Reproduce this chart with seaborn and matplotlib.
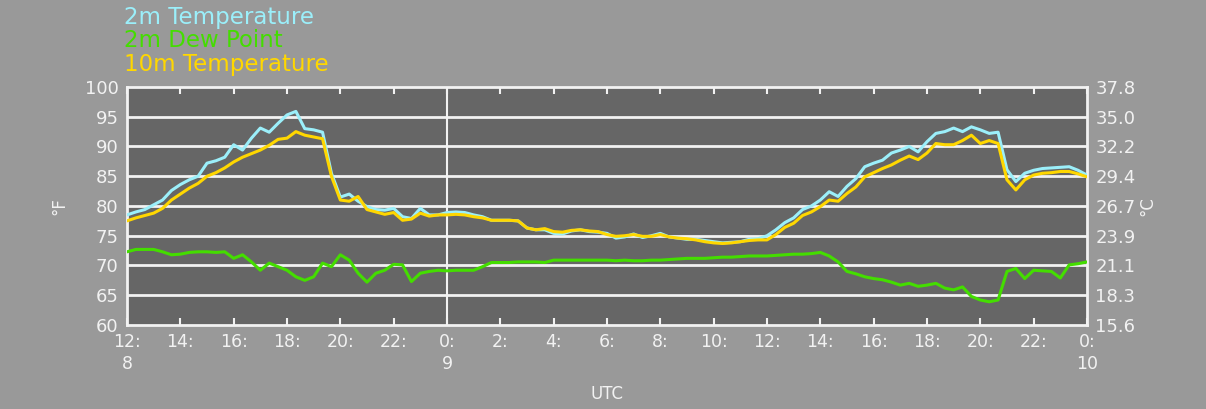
import numpy as np
import pandas as pd
import matplotlib
matplotlib.use("Agg")
import matplotlib.pyplot as plt
import seaborn as sns

# hours since 12 UTC on day 8, every 20 minutes
hours = [i / 3 for i in range(109)]

temp_2m = [
    78.5, 79.0, 79.4, 80.2, 81.0, 82.6, 83.6, 84.4, 85.0,
    87.2, 87.6, 88.2, 90.3, 89.4, 91.4, 93.1, 92.4, 93.9,
    95.3, 95.9, 93.0, 92.8, 92.4, 85.5, 81.5, 82.0, 80.8,
    79.9, 79.4, 79.3, 79.6, 78.2, 77.9, 79.6, 78.5, 78.5,
    78.9, 79.0, 78.9, 78.5, 78.2, 77.6, 77.6, 77.6, 77.5,
    76.3, 76.0, 76.0, 75.4, 75.3, 75.8, 76.0, 75.7, 75.6,
    75.4, 74.6, 74.8, 75.3, 74.7, 75.0, 75.4, 74.8, 74.6,
    74.4, 74.4, 74.2, 74.0, 73.8, 73.9, 74.0, 74.4, 74.5,
    75.0, 76.0, 77.2, 78.0, 79.4, 80.0, 81.0, 82.4, 81.6,
    83.3, 84.6, 86.6, 87.2, 87.7, 88.9, 89.4, 90.0, 89.1,
    90.8, 92.2, 92.5, 93.1, 92.5, 93.3, 92.8, 92.2, 92.4,
    86.1, 84.1, 85.5, 86.0, 86.3, 86.4, 86.5, 86.6, 86.0,
    85.2,
]

dew_2m = [
    72.3, 72.7, 72.7, 72.7, 72.3, 71.8, 71.9, 72.2, 72.3,
    72.3, 72.2, 72.3, 71.2, 71.8, 70.6, 69.2, 70.4, 69.8,
    69.2, 68.1, 67.5, 68.1, 70.4, 69.8, 71.8, 70.9, 68.7,
    67.2, 68.7, 69.2, 70.2, 70.1, 67.3, 68.7, 69.0, 69.2,
    69.1, 69.2, 69.2, 69.2, 69.8, 70.5, 70.5, 70.5, 70.6,
    70.6, 70.6, 70.5, 70.9, 70.9, 70.9, 70.9, 70.9, 70.9,
    70.9, 70.8, 70.9, 70.8, 70.8, 70.9, 70.9, 71.0, 71.1,
    71.2, 71.2, 71.2, 71.3, 71.4, 71.4, 71.5, 71.6, 71.6,
    71.6, 71.7, 71.8, 71.9, 71.9, 72.0, 72.2, 71.6, 70.6,
    69.0, 68.6, 68.1, 67.8, 67.6, 67.2, 66.7, 67.0, 66.5,
    66.7, 67.0, 66.2, 65.9, 66.4, 64.8, 64.2, 63.9, 64.2,
    69.0, 69.5, 67.8, 69.2, 69.1, 69.0, 67.9, 70.1, 70.3,
    70.6,
]

temp_10m = [
    77.5, 78.0, 78.4, 78.8, 79.6, 81.0, 82.0, 83.0, 83.8,
    85.0, 85.6, 86.4, 87.4, 88.2, 88.8, 89.4, 90.2, 91.2,
    91.4, 92.5, 91.9, 91.6, 91.3, 85.0, 81.0, 80.8, 81.6,
    79.4, 79.0, 78.6, 78.9, 77.6, 77.8, 78.8, 78.3, 78.5,
    78.5, 78.6, 78.5, 78.2, 78.0, 77.6, 77.6, 77.6, 77.5,
    76.3, 76.0, 76.2, 75.7, 75.6, 75.9, 76.0, 75.8, 75.7,
    75.2, 74.9, 75.0, 75.2, 74.9, 74.9, 75.2, 74.8, 74.6,
    74.5, 74.3, 74.0, 73.8, 73.7, 73.8, 74.0, 74.2, 74.3,
    74.3, 75.2, 76.4, 77.1, 78.4, 79.0, 79.9, 81.0, 80.8,
    82.1, 83.2, 84.9, 85.6, 86.3, 86.9, 87.7, 88.4, 87.8,
    88.9, 90.5, 90.3, 90.3, 91.0, 91.9, 90.5, 91.0, 90.5,
    84.4, 82.7, 84.4, 85.2, 85.5, 85.6, 85.8, 85.8, 85.4,
    84.9,
]

series_names = ["2m Temperature", "2m Dew Point", "10m Temperature"]
series_colors = ["#9BEFFA", "#44DD00", "#FFD700"]

x_tick_hours = [0, 2, 4, 6, 8, 10, 12, 14, 16, 18, 20, 22, 24, 26, 28, 30, 32, 34, 36]
x_tick_labels = ["12:\n8", "14:", "16:", "18:", "20:", "22:", "0:\n9", "2:", "4:", "6:",
                 "8:", "10:", "12:", "14:", "16:", "18:", "20:", "22:", "0:\n10"]
f_ticks = [60, 65, 70, 75, 80, 85, 90, 95, 100]
c_labels = ["15.6", "18.3", "21.1", "23.9", "26.7", "29.4", "32.2", "35.0", "37.8"]

BG = "#999999"
PANEL = "#666666"
WHITE = "#F2F2F2"

sns.set_theme(style="white")
plt.rcParams["font.family"] = ["DejaVu Sans"]

fig = plt.figure(figsize=(12.06, 4.09), dpi=100, facecolor=BG)
ax = fig.add_axes([0.1053, 0.2054, 0.7960, 0.5819])
ax.set_facecolor(PANEL)

df = pd.DataFrame({"hour": hours, "t2": temp_2m, "td": dew_2m, "t10": temp_10m})

for col, color in zip(["t2", "t10", "td"], [series_colors[0], series_colors[2], series_colors[1]]):
    sns.lineplot(data=df, x="hour", y=col, ax=ax, color=color, lw=2.2, zorder=3)

ax.set_xlim(0, 36)
ax.set_ylim(60, 100)

for f in f_ticks[1:-1]:
    ax.axhline(f, color=WHITE, lw=2, zorder=2)
ax.axvline(12, color=WHITE, lw=1.5, zorder=2)

for s in ax.spines.values():
    s.set_color(WHITE)
    s.set_linewidth(2)
    s.set_visible(True)

ax.set_xticks(x_tick_hours)
ax.set_xticklabels(x_tick_labels, color=WHITE, fontsize=12.5, linespacing=1.25)
ax.tick_params(axis="x", direction="in", length=5, width=1.5, color=WHITE,
               top=True, bottom=True, pad=6)
ax.set_yticks(f_ticks)
ax.set_yticklabels([str(v) for v in f_ticks], color=WHITE, fontsize=13)
ax.tick_params(axis="y", length=0, pad=6)
ax.set_xlabel("UTC", color=WHITE, fontsize=12, labelpad=9)
ax.set_ylabel("°F", color=WHITE, fontsize=12, labelpad=12)

ax2 = ax.twinx()
ax2.set_ylim(60, 100)
ax2.set_yticks(f_ticks)
ax2.set_yticklabels(c_labels, color=WHITE, fontsize=13)
ax2.tick_params(axis="y", length=0, pad=6)
ax2.set_ylabel("°C", color=WHITE, fontsize=12, labelpad=2)
for s in ax2.spines.values():
    s.set_visible(False)

ys = [0.985, 0.928, 0.871]
for name, color, y in zip(series_names, series_colors, ys):
    fig.text(0.103, y, name, color=color, fontsize=16.5, ha="left", va="top")

fig.savefig("out.png", dpi=100, facecolor=BG)
